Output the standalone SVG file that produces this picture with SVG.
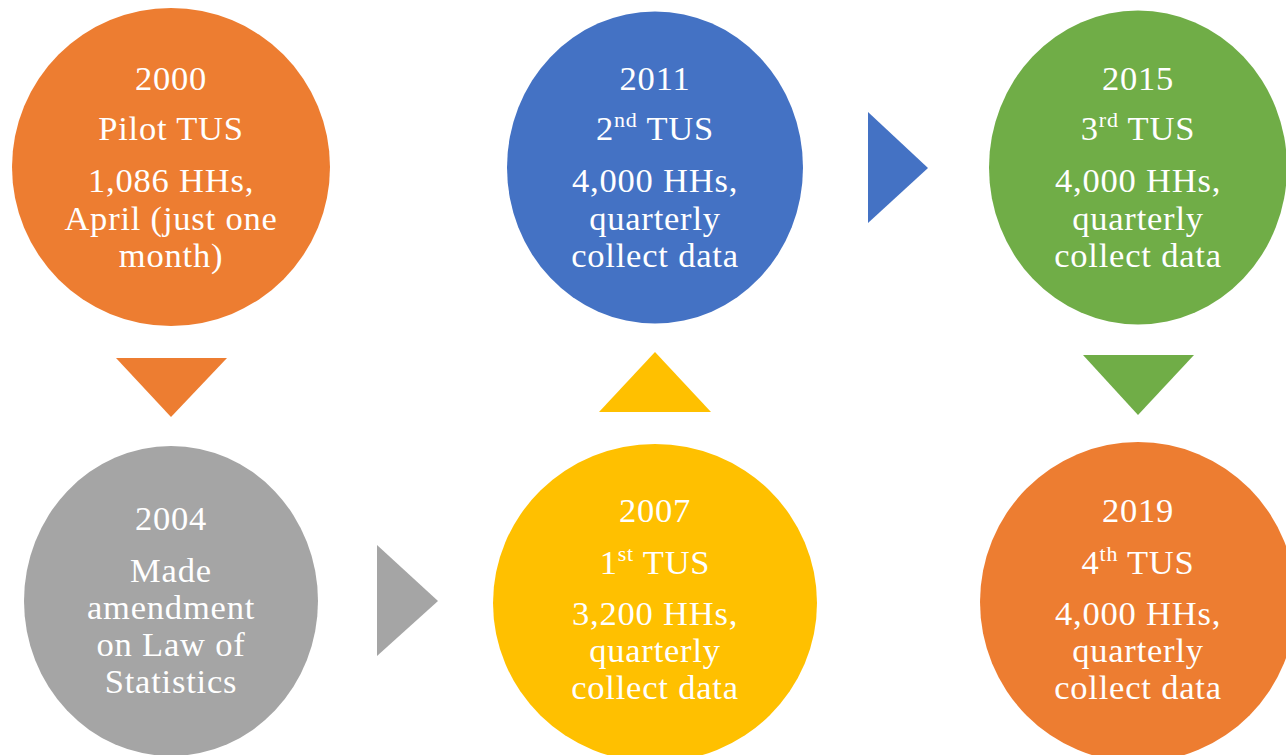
<svg xmlns="http://www.w3.org/2000/svg" width="1286" height="755" viewBox="0 0 1286 755">
<style>
.t{font-family:"Liberation Serif","Times New Roman",serif;font-size:34.5px;fill:#ffffff;text-anchor:middle;letter-spacing:0.8px}
.sup{font-size:22px}
</style>
<rect width="1286" height="755" fill="#ffffff"/>
<g id="connectors">
<polygon points="116,358 227,358 171,417" fill="#ED7D31"/>
<polygon points="599,412 711,412 655,352" fill="#FFC000"/>
<polygon points="1083,355 1194,355 1138,415" fill="#70AD47"/>
<polygon points="868,112 868,223 928,168" fill="#4472C4"/>
<polygon points="377,545 377,656 438,601" fill="#A5A5A5"/>
</g>
<g id="n2000">
<ellipse cx="171" cy="167" rx="159" ry="159" fill="#ED7D31"/>
<text class="t" x="171" y="90">2000</text>
<text class="t" x="171" y="140">Pilot TUS</text>
<text class="t" x="171" y="192">1,086 HHs,</text>
<text class="t" x="171" y="230">April (just one</text>
<text class="t" x="171" y="267">month)</text>
</g>
<g id="n2011">
<ellipse cx="655" cy="167.5" rx="148" ry="156" fill="#4472C4"/>
<text class="t" x="655" y="90">2011</text>
<text class="t" x="655" y="140">2<tspan class="sup" dy="-13">nd</tspan><tspan dy="13"> TUS</tspan></text>
<text class="t" x="655" y="192">4,000 HHs,</text>
<text class="t" x="655" y="230">quarterly</text>
<text class="t" x="655" y="267">collect data</text>
</g>
<g id="n2015">
<ellipse cx="1138" cy="167.5" rx="149" ry="157" fill="#70AD47"/>
<text class="t" x="1138" y="90">2015</text>
<text class="t" x="1138" y="140">3<tspan class="sup" dy="-13">rd</tspan><tspan dy="13"> TUS</tspan></text>
<text class="t" x="1138" y="192">4,000 HHs,</text>
<text class="t" x="1138" y="230">quarterly</text>
<text class="t" x="1138" y="267">collect data</text>
</g>
<g id="n2004">
<ellipse cx="171" cy="601" rx="147" ry="155" fill="#A5A5A5"/>
<text class="t" x="171" y="530">2004</text>
<text class="t" x="171" y="582">Made</text>
<text class="t" x="171" y="619">amendment</text>
<text class="t" x="171" y="656">on Law of</text>
<text class="t" x="171" y="693">Statistics</text>
</g>
<g id="n2007">
<ellipse cx="655" cy="603" rx="162" ry="159" fill="#FFC000"/>
<text class="t" x="655" y="522">2007</text>
<text class="t" x="655" y="574">1<tspan class="sup" dy="-13">st</tspan><tspan dy="13"> TUS</tspan></text>
<text class="t" x="655" y="625">3,200 HHs,</text>
<text class="t" x="655" y="662">quarterly</text>
<text class="t" x="655" y="699">collect data</text>
</g>
<g id="n2019">
<ellipse cx="1138" cy="602" rx="158" ry="160" fill="#ED7D31"/>
<text class="t" x="1138" y="522">2019</text>
<text class="t" x="1138" y="574">4<tspan class="sup" dy="-13">th</tspan><tspan dy="13"> TUS</tspan></text>
<text class="t" x="1138" y="625">4,000 HHs,</text>
<text class="t" x="1138" y="662">quarterly</text>
<text class="t" x="1138" y="699">collect data</text>
</g>
</svg>
